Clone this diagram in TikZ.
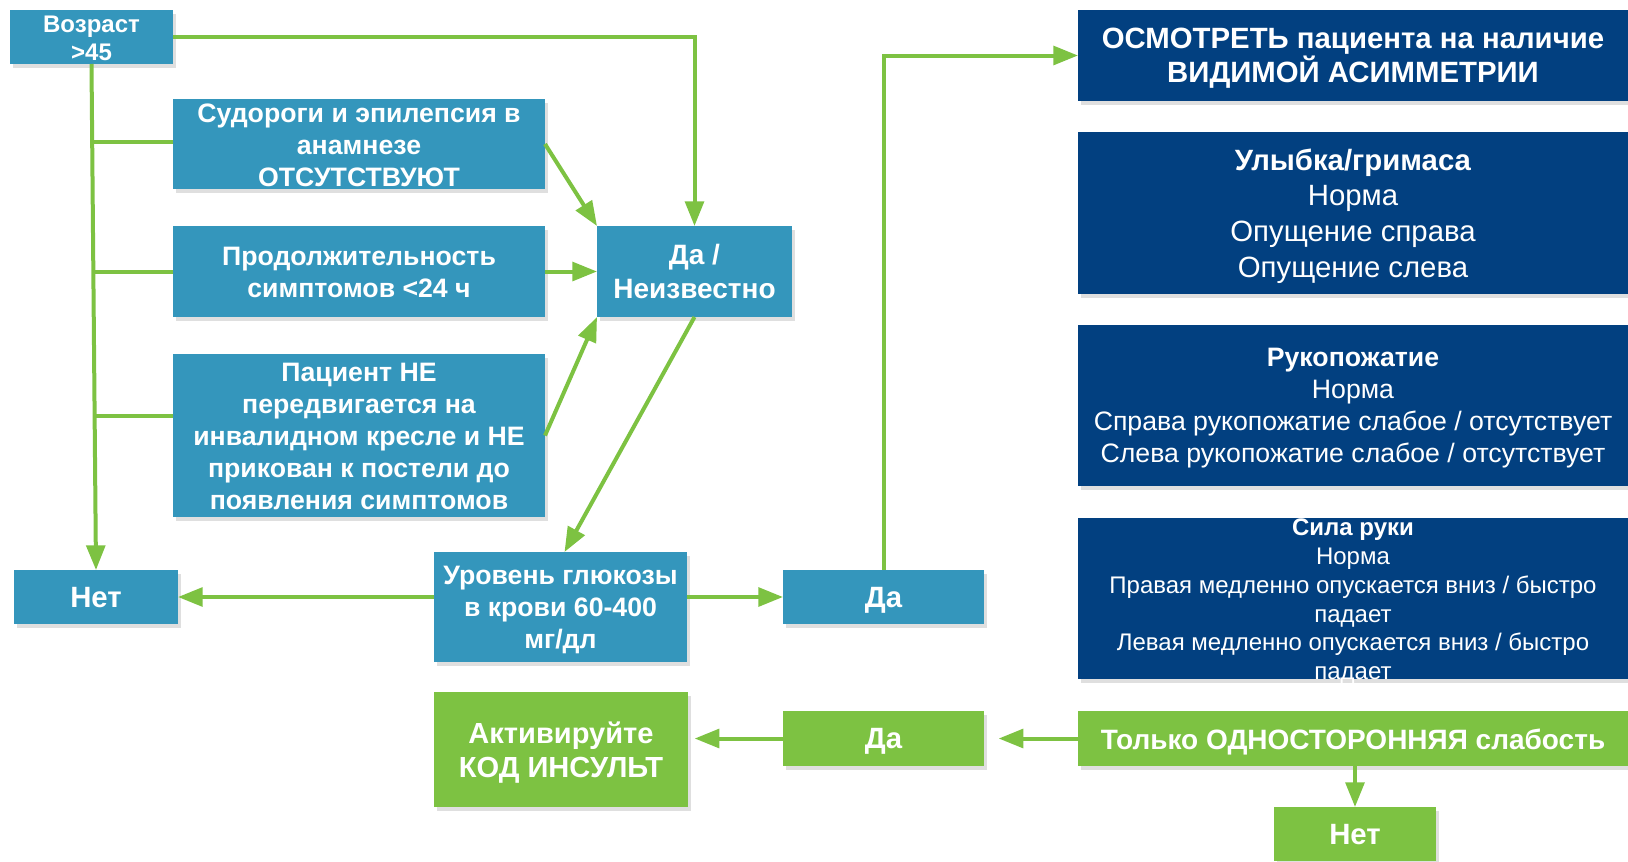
\documentclass[tikz,border=0pt]{standalone}
\usepackage{fontspec}
\setmainfont{Liberation Sans}
\usetikzlibrary{arrows.meta,shadows}
\definecolor{bluebox}{RGB}{52,150,188}
\definecolor{navybox}{RGB}{2,64,128}
\definecolor{grnbox}{RGB}{125,194,66}
\newcommand\mkbox[8]{%
  \node[#6, minimum width={(#4-#2)*0.75pt}, minimum height={(#5-#3)*0.75pt}]
    (#1) at ({(#2+#4)/2},{(#3+#5)/2}) {};
  \node[txt, #7] (#1-t) at (#1.center) {#8};}
\begin{document}
\begin{tikzpicture}[x=0.75pt,y=-0.75pt,
  base/.style={inner sep=0pt, outer sep=0pt,
    drop shadow={shadow xshift=2pt, shadow yshift=-3pt, opacity=0.25}},
  txt/.style={inner sep=0pt, align=center, text=white, yshift=-2.3pt},
  up/.style={yshift=1.6pt},
  lb/.style={base, fill=bluebox},
  nv/.style={base, fill=navybox},
  gb/.style={base, fill=grnbox},
  fA/.style={font=\bfseries\fontsize{20}{24}\selectfont},
  fN/.style={font=\bfseries\fontsize{22}{26}\selectfont},
  fV/.style={font=\bfseries\fontsize{18}{21}\selectfont},
  fD/.style={font=\bfseries\fontsize{21}{25.5}\selectfont},
  fK/.style={font=\bfseries\fontsize{21.8}{25.5}\selectfont},
  conn/.style={draw=grnbox, line width=3pt},
  arr/.style={conn, -{Triangle[length=18.5pt,width=14pt]}}
]
\useasboundingbox (0,0) rectangle (1628,861);

% left column
\mkbox{voz}{10}{10}{173}{64}{lb}{fV,up}{Возраст\\>45}
\mkbox{sud}{173}{99}{545}{189}{lb}{fA,up}{Судороги и эпилепсия в\\анамнезе\\ОТСУТСТВУЮТ}
\mkbox{prod}{173}{226}{545}{317}{lb}{fA,up}{Продолжительность\\симптомов <24 ч}
\mkbox{pac}{173}{354}{545}{517}{lb}{fA,up}{Пациент НЕ\\передвигается на\\инвалидном кресле и НЕ\\прикован к постели до\\появления симптомов}
\mkbox{dan}{597}{226}{792}{317}{lb}{fD,up,yshift=0.7pt}{Да /\\Неизвестно}
\mkbox{net1}{14}{570}{178}{624}{lb}{fN,up}{Нет}
\mkbox{glu}{434}{552}{687}{662}{lb}{fA}{Уровень глюкозы\\в крови 60-400\\мг/дл}
\mkbox{da1}{783}{570}{984}{624}{lb}{fN}{Да}
\mkbox{akt}{434}{692}{688}{807}{gb}{fK}{Активируйте\\КОД ИНСУЛЬТ}
\mkbox{da2}{783}{711}{984}{766}{gb}{fN}{Да}

% right column
\mkbox{osm}{1078}{10}{1628}{101}{nv}{font=\bfseries\fontsize{22}{25.5}\selectfont}{ОСМОТРЕТЬ пациента на наличие\\ВИДИМОЙ АСИММЕТРИИ}
\mkbox{smile}{1078}{132}{1628}{294}{nv}{font=\fontsize{22}{26.7}\selectfont}{\textbf{Улыбка/гримаса}\\Норма\\Опущение справа\\Опущение слева}
\mkbox{hand}{1078}{325}{1628}{486}{nv}{font=\fontsize{20}{24}\selectfont}{\textbf{Рукопожатие}\\Норма\\Справа рукопожатие слабое / отсутствует\\Слева рукопожатие слабое / отсутствует}
\mkbox{arm}{1078}{518}{1628}{679}{nv}{font=\fontsize{18}{21.7}\selectfont}{\textbf{Сила руки}\\Норма\\Правая медленно опускается вниз / быстро\\падает\\Левая медленно опускается вниз / быстро\\падает}
\mkbox{only}{1078}{711}{1628}{766}{gb}{font=\bfseries\fontsize{21}{25}\selectfont}{Только ОДНОСТОРОННЯЯ слабость}
\mkbox{net2}{1274}{807}{1436}{861}{gb}{fN,up}{Нет}

% trunk coordinates
\coordinate (t1) at (93,142);
\coordinate (t2) at (93,271.5);
\coordinate (t3) at (93,416);
\coordinate (pw) at (173,416);

% connectors
\draw[arr] (voz.east) -| (dan.north);
\draw[arr] (voz.south) -- (net1.north);
\draw[conn] (t1) -- (t1 -| sud.west);
\draw[conn] (t2) -- (prod.west);
\draw[conn] (t3) -- (pw);
\draw[arr] (sud.east) -- (dan.north west);
\draw[arr] (prod.east) -- (dan.west);
\draw[arr] (pac.east) -- (dan.south west);
\draw[arr] (dan.south) -- ([xshift=3pt]glu.north);
\draw[arr] (glu.west |- net1.east) -- (net1.east);
\draw[arr] (glu.east |- da1.west) -- (da1.west);
\draw[arr] (da1.north) |- (osm.west);
\draw[arr, shorten >=11pt] (only.west) -- (da2.east);
\draw[arr, shorten >=5pt] (da2.west) -- (da2.west -| akt.east);
\draw[arr] (only.south -| net2.north) -- (net2.north);
\end{tikzpicture}
\end{document}
